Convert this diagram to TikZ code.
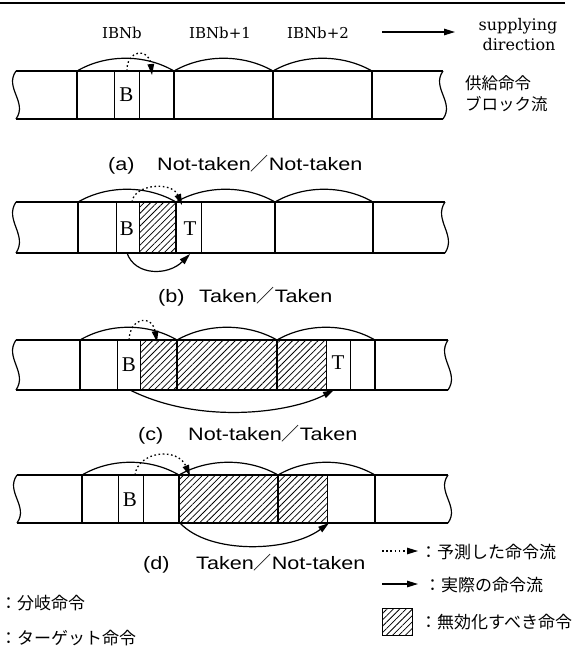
\documentclass[tikz,border=0pt]{standalone}
\usepackage{fontspec}
\setmainfont{Liberation Serif}
\newfontfamily\jpfont{Noto Sans CJK JP}
\newfontfamily\labfont{DejaVu Serif}
\newfontfamily\capfont[FakeStretch=1.2]{Liberation Sans}
\usetikzlibrary{arrows.meta,patterns.meta}

\newcommand\flowstrip[4]{% #1 top, #2 bottom, #3 left, #4 right
  \draw[edgeline] (#3,#1) -- (#4,#1) (#3,#2) -- (#4,#2);
  \draw[edgeline] (#3,#1) .. controls ({#3-12},{#1+0.35*(#2-#1)}) and ({#3+12},{#1+0.65*(#2-#1)}) .. (#3,#2);
  \draw[edgeline] (#4,#1) .. controls ({#4-12},{#1+0.35*(#2-#1)}) and ({#4+12},{#1+0.65*(#2-#1)}) .. (#4,#2);
}
\newcommand\blockarc[3]{% #1 x1, #2 x2, #3 top
  \draw[arcline] (#1,#3) .. controls ({#1+0.3*(#2-#1)},{#3-17}) and ({#2-0.3*(#2-#1)},{#3-17}) .. (#2,#3);
}

\begin{document}
\begin{tikzpicture}[x=1pt,y=-1pt,
  edgeline/.style={line width=1.2pt},
  sepline/.style={line width=2.3pt},
  cellline/.style={line width=0.9pt},
  arcline/.style={line width=1.2pt},
  hatchfill/.style={pattern={Lines[angle=45,distance=4.5pt,line width=0.75pt]}},
  predarrow/.style={line width=1.3pt, dash pattern=on 1.6pt off 2.6pt, -{Triangle[length=11pt,width=6.5pt]}},
  realarrow/.style={line width=1.2pt, -{Triangle[length=11pt,width=6.5pt]}},
  capstyle/.style={anchor=base west, inner sep=0pt, font=\capfont\fontsize{18}{20}\selectfont},
  labstyle/.style={anchor=base, inner sep=0pt, font=\labfont\fontsize{15}{18}\selectfont},
  dirstyle/.style={anchor=base, inner sep=0pt, font=\labfont\fontsize{16}{19}\selectfont},
  celltext/.style={inner sep=0pt, font=\fontsize{21}{24}\selectfont},
  jptext/.style={anchor=west, inner sep=0pt, font=\jpfont\fontsize{16.5}{19}\selectfont},
  legtext/.style={anchor=west, inner sep=0pt, font=\jpfont\fontsize{17}{20}\selectfont}
]
\useasboundingbox (0,0) rectangle (586,646);

% top rule
\draw[line width=2.5pt] (0,3) -- (565,3);

% header labels
\node[labstyle] (ibn0) at (122,38) {IBNb};
\node[labstyle] (ibn1) at (220,38) {IBNb+1};
\node[labstyle] (ibn2) at (318,38) {IBNb+2};
\coordinate (dirs) at (382,32);
\coordinate (dire) at (455,32);
\draw[realarrow] (dirs) -- (dire);
\node[dirstyle] (sup) at (518,30) {supplying};
\node[dirstyle] (dir) at (519,50) {direction};
\node[jptext] (kyo1) at (465,83) {供給命令};
\node[jptext] (kyo2) at (465,104) {ブロック流};

% ---------- (a) ----------
\flowstrip{71}{119}{16}{443}
\foreach \x in {114,139} \draw[cellline] (\x,71) -- (\x,119);
\foreach \x in {77,174,273,372} \draw[sepline] (\x,71) -- (\x,119);
\blockarc{77}{174}{71}
\blockarc{174}{273}{71}
\blockarc{273}{372}{71}
\node[celltext] (ba) at (126.5,95) {B};
\coordinate (aps) at (127,71);
\coordinate (ape) at (152,75);
\draw[predarrow] (aps) .. controls (126,50) and (149,47) .. (ape);
\node[capstyle] (capa1) at (108,170) {(a)};
\node[capstyle] (capa2) at (157,170) {Not-taken{\jpfont ／}Not-taken};

% ---------- (b) ----------
\fill[hatchfill] (139,202) rectangle (176,253);
\flowstrip{202}{253}{16}{445}
\foreach \x in {116,139,201} \draw[cellline] (\x,202) -- (\x,253);
\foreach \x in {78,176,275,373} \draw[sepline] (\x,202) -- (\x,253);
\blockarc{78}{176}{202}
\blockarc{176}{275}{202}
\blockarc{275}{373}{202}
\node[celltext] (bb) at (127,229) {B};
\node[celltext] (tb) at (190,229) {T};
\coordinate (bps) at (132,202);
\coordinate (bpe) at (182,205);
\draw[predarrow] (bps) .. controls (134,184) and (172,181) .. (bpe);
\coordinate (brs) at (127,253);
\coordinate (bre) at (190,254);
\draw[realarrow] (brs) .. controls (135,276) and (168,276) .. (bre);
\node[capstyle] (capb1) at (158,302) {(b)};
\node[capstyle] (capb2) at (199,302) {Taken{\jpfont ／}Taken};

% ---------- (c) ----------
\fill[hatchfill] (140,340) rectangle (326,390);
\flowstrip{340}{390}{16}{448}
\foreach \x in {117,140,326,350} \draw[cellline] (\x,340) -- (\x,390);
\foreach \x in {80,177,277,375} \draw[sepline] (\x,340) -- (\x,390);
\blockarc{80}{177}{340}
\blockarc{177}{277}{340}
\blockarc{277}{375}{340}
\node[celltext] (bc) at (129,364.5) {B};
\node[celltext] (tc) at (338,363) {T};
\coordinate (cps) at (129,340);
\coordinate (cpe) at (157,342);
\draw[predarrow] (cps) .. controls (130,317) and (152,314) .. (cpe);
\coordinate (crs) at (130,390);
\coordinate (cre) at (334,390);
\draw[realarrow] (crs) .. controls (200,425) and (290,413) .. (cre);
\node[capstyle] (capc1) at (138,440) {(c)};
\node[capstyle] (capc2) at (188,440) {Not-taken{\jpfont ／}Taken};

% ---------- (d) ----------
\fill[hatchfill] (179,475) rectangle (327,523);
\flowstrip{475}{523}{17}{448}
\foreach \x in {118,143,327} \draw[cellline] (\x,475) -- (\x,523);
\foreach \x in {82,179,278,375} \draw[sepline] (\x,475) -- (\x,523);
\blockarc{82}{179}{475}
\blockarc{179}{278}{475}
\blockarc{278}{375}{475}
\node[celltext] (bd) at (130,499.5) {B};
\coordinate (dps) at (135,475);
\coordinate (dpe) at (190,476);
\draw[predarrow] (dps) .. controls (138,451) and (178,447) .. (dpe);
\coordinate (drs) at (180,523);
\coordinate (dre) at (329,523);
\draw[realarrow] (drs) .. controls (210,555) and (290,552) .. (dre);
\node[capstyle] (capd1) at (143,569) {(d)};
\node[capstyle] (capd2) at (196,569) {Taken{\jpfont ／}Not-taken};

% ---------- legends ----------
\node[legtext] (lgb) at (0,603) {：分岐命令};
\node[legtext] (lgt) at (0,638) {：ターゲット命令};

\coordinate (lps) at (382,551);
\coordinate (lpe) at (418,551);
\draw[predarrow] (lps) -- (lpe);
\node[legtext] (lgp) at (420,552) {：予測した命令流};
\coordinate (lrs) at (382,584);
\coordinate (lre) at (418,584);
\draw[realarrow] (lrs) -- (lre);
\node[legtext] (lgr) at (424,585) {：実際の命令流};
\fill[hatchfill] (382,608) rectangle (412,635);
\draw[cellline] (382,608) rectangle (412,635);
\node[legtext] (lgh) at (420,622) {：無効化すべき命令};
\end{tikzpicture}
\end{document}
